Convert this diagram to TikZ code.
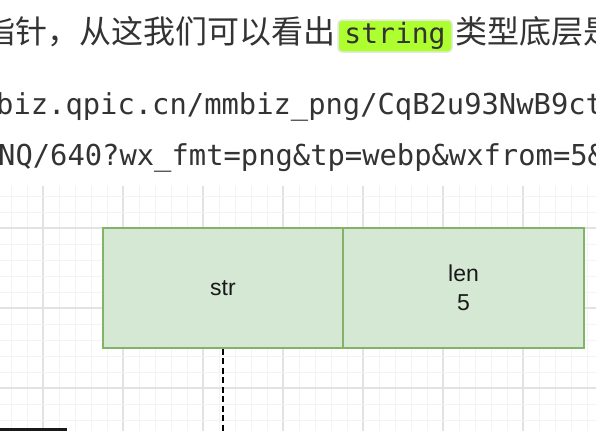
\documentclass[tikz,border=0pt]{standalone}
\usepackage{fontspec}
\setmonofont{DejaVu Sans Mono}
\setsansfont{Liberation Sans}
\newfontfamily\zhfont{Noto Sans CJK SC}
\definecolor{textgray}{HTML}{333333}
\definecolor{gridminor}{HTML}{F3F3F3}
\definecolor{gridmajor}{HTML}{E2E2E2}
\definecolor{cellfill}{HTML}{D5E8D4}
\definecolor{cellborder}{HTML}{82B366}
\definecolor{hlfill}{HTML}{ADFF2F}
\definecolor{hlborder}{HTML}{E4E8E0}
\tikzset{
    pagetext/.style={inner sep=0pt, text=textgray},
    zhtext/.style={pagetext, font=\zhfont\fontsize{32}{38}\selectfont},
    urltext/.style={pagetext, anchor=base west, font=\ttfamily\fontsize{28.8}{34}\selectfont},
    hlbox/.style={fill=hlfill, draw=hlborder, line width=1.5pt, rounded corners=4pt,
        minimum width=114pt, minimum height=32pt, inner sep=0pt,
        text=textgray, font=\ttfamily\fontsize{28}{34}\selectfont},
    cell/.style={draw=cellborder, fill=cellfill, line width=1.3pt,
        minimum width=240pt, minimum height=120pt, inner sep=0pt, align=center,
        text=black!90, font=\sffamily\fontsize{23}{29}\selectfont},
}
\begin{document}
\begin{tikzpicture}[x=1pt, y=-1pt]
        \useasboundingbox (0,0) rectangle (596,431);
        \clip (0,0) rectangle (596,431);
        \fill[white] (0,0) rectangle (596,431);
        % text above the figure
        \node[hlbox] (hl) at (395,36) {string};
        \node[zhtext, anchor=base east] (zhleft) at ([xshift=-2pt]hl.base west) {指针，从这我们可以看出};
        \node[zhtext, anchor=base west] (zhright) at ([xshift=3pt]hl.base east) {类型底层是};
        \node[urltext] (url1) at (-4,114) {biz.qpic.cn/mmbiz\_png/CqB2u93NwB9ct};
        \node[urltext] (url2) at (-2,165) {NQ/640?wx\_fmt=png\&tp=webp\&wxfrom=5\&};
        % GRID (16 / 80)
        \foreach \i in {0,...,36} {
            \pgfmathtruncatemacro\k{mod(\i+3,5)}
            \ifnum\k=0
                \draw[gridmajor, line width=1.2pt] (11+16*\i,186) -- ++(0,245);
            \else
                \draw[gridminor, line width=1pt] (11+16*\i,186) -- ++(0,245);
            \fi
        }
        \foreach \j in {0,...,14} {
            \pgfmathtruncatemacro\k{mod(\j+3,5)}
            \ifnum\k=0
                \draw[gridmajor, line width=1.2pt] (0,196+16*\j) -- ++(596,0);
            \else
                \draw[gridminor, line width=1pt] (0,196+16*\j) -- ++(596,0);
            \fi
        }
        % string header
        \node[cell] (str) at (223,288) {str};
        \node[cell, minimum width=241pt] (len) at (463.5,288) {len\\5};
        \coordinate (strend) at (223,431);
        \draw[black, line width=2.2pt, dash pattern=on 6pt off 3.5pt] (str.south) -- (strend);
        \fill[black!90] (0,428) rectangle (67,431);
    \end{tikzpicture}
\end{document}
